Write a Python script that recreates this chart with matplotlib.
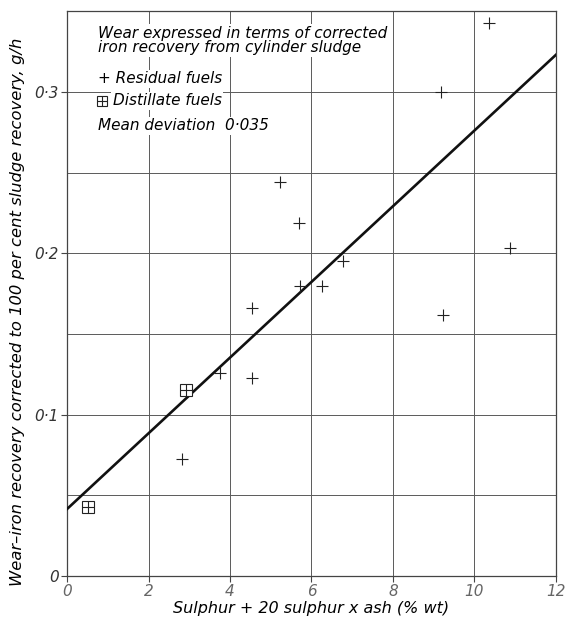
import matplotlib.pyplot as plt
import numpy as np

# residual fuels: sulphur + 20 sulphur x ash (% wt) vs corrected wear (g/h)
res_x = [10.36, 9.18, 5.23, 5.69, 4.55, 5.72, 6.26, 6.77, 10.87, 9.23, 4.54, 3.75, 2.82]
res_y = [0.343, 0.300, 0.244, 0.219, 0.166, 0.180, 0.180, 0.195, 0.203, 0.162, 0.123, 0.126, 0.0725]

# distillate fuels
dis_x = [2.92, 0.52]
dis_y = [0.115, 0.043]

# fitted line
fit_x = [0, 12]
fit_y = [0.0415, 0.323]

xticks = [0, 2, 4, 6, 8, 10, 12]
yticks = [0, 0.1, 0.2, 0.3]
ytick_labels = ['0', '0·1', '0·2', '0·3']

plt.rcParams['font.family'] = ['DejaVu Sans']
plt.rcParams['font.style'] = 'italic'

fig = plt.figure(figsize=(5.65, 6.23), dpi=100)
ax = fig.add_axes([0.1186, 0.0754, 0.8654, 0.9066])

ax.set_xlim(0, 12)
ax.set_ylim(0, 0.35)
ax.set_xticks(xticks)
ax.set_xticklabels([str(t) for t in xticks], color='#666666', fontsize=11)
ax.set_yticks(yticks)
ax.set_yticklabels(ytick_labels, color='#333333', fontsize=11)
ax.set_yticks(np.arange(0, 0.351, 0.05), minor=True)
ax.tick_params(axis='y', which='minor', length=0)
ax.tick_params(axis='both', which='major', length=4, width=0.8, color='#444444', pad=2)
ax.grid(True, which='both', color='#5a5a5a', linewidth=0.7)
ax.set_axisbelow(True)
for s in ax.spines.values():
    s.set_color('#444444')
    s.set_linewidth(0.9)

ax.plot(fit_x, fit_y, color='#111111', linewidth=1.9, zorder=3)
ax.plot(res_x, res_y, '+', color='#222222', markersize=9, markeredgewidth=0.8, zorder=4)
ax.plot(dis_x, dis_y, 's', mfc='white', mec='#222222', markersize=8, markeredgewidth=0.8, zorder=4)
ax.plot(dis_x, dis_y, '+', color='#222222', markersize=8, markeredgewidth=0.8, zorder=5)

box = dict(facecolor='white', edgecolor='none', pad=1)
ax.text(0.75, 0.341, 'Wear expressed in terms of corrected\niron recovery from cylinder sludge',
        fontsize=11, va='top', ha='left', linespacing=0.95, bbox=box, zorder=6)
ax.text(0.75, 0.308, '+ Residual fuels', fontsize=11, va='center', ha='left', bbox=box, zorder=6)
ax.plot([0.87], [0.2945], 's', mfc='white', mec='#222222', markersize=7, markeredgewidth=0.8, zorder=7)
ax.plot([0.87], [0.2945], '+', color='#222222', markersize=7, markeredgewidth=0.8, zorder=8)
ax.text(1.12, 0.2945, 'Distillate fuels', fontsize=11, va='center', ha='left', bbox=box, zorder=6)
ax.text(0.75, 0.279, 'Mean deviation  0·035', fontsize=11, va='center', ha='left', bbox=box, zorder=6)

ax.set_xlabel('Sulphur + 20 sulphur x ash (% wt)', fontsize=11.5, labelpad=1)
ax.set_ylabel('Wear–iron recovery corrected to 100 per cent sludge recovery, g/h', fontsize=11.8)
ax.yaxis.set_label_coords(-0.086, 0.467)

plt.savefig('out.png', dpi=100)
